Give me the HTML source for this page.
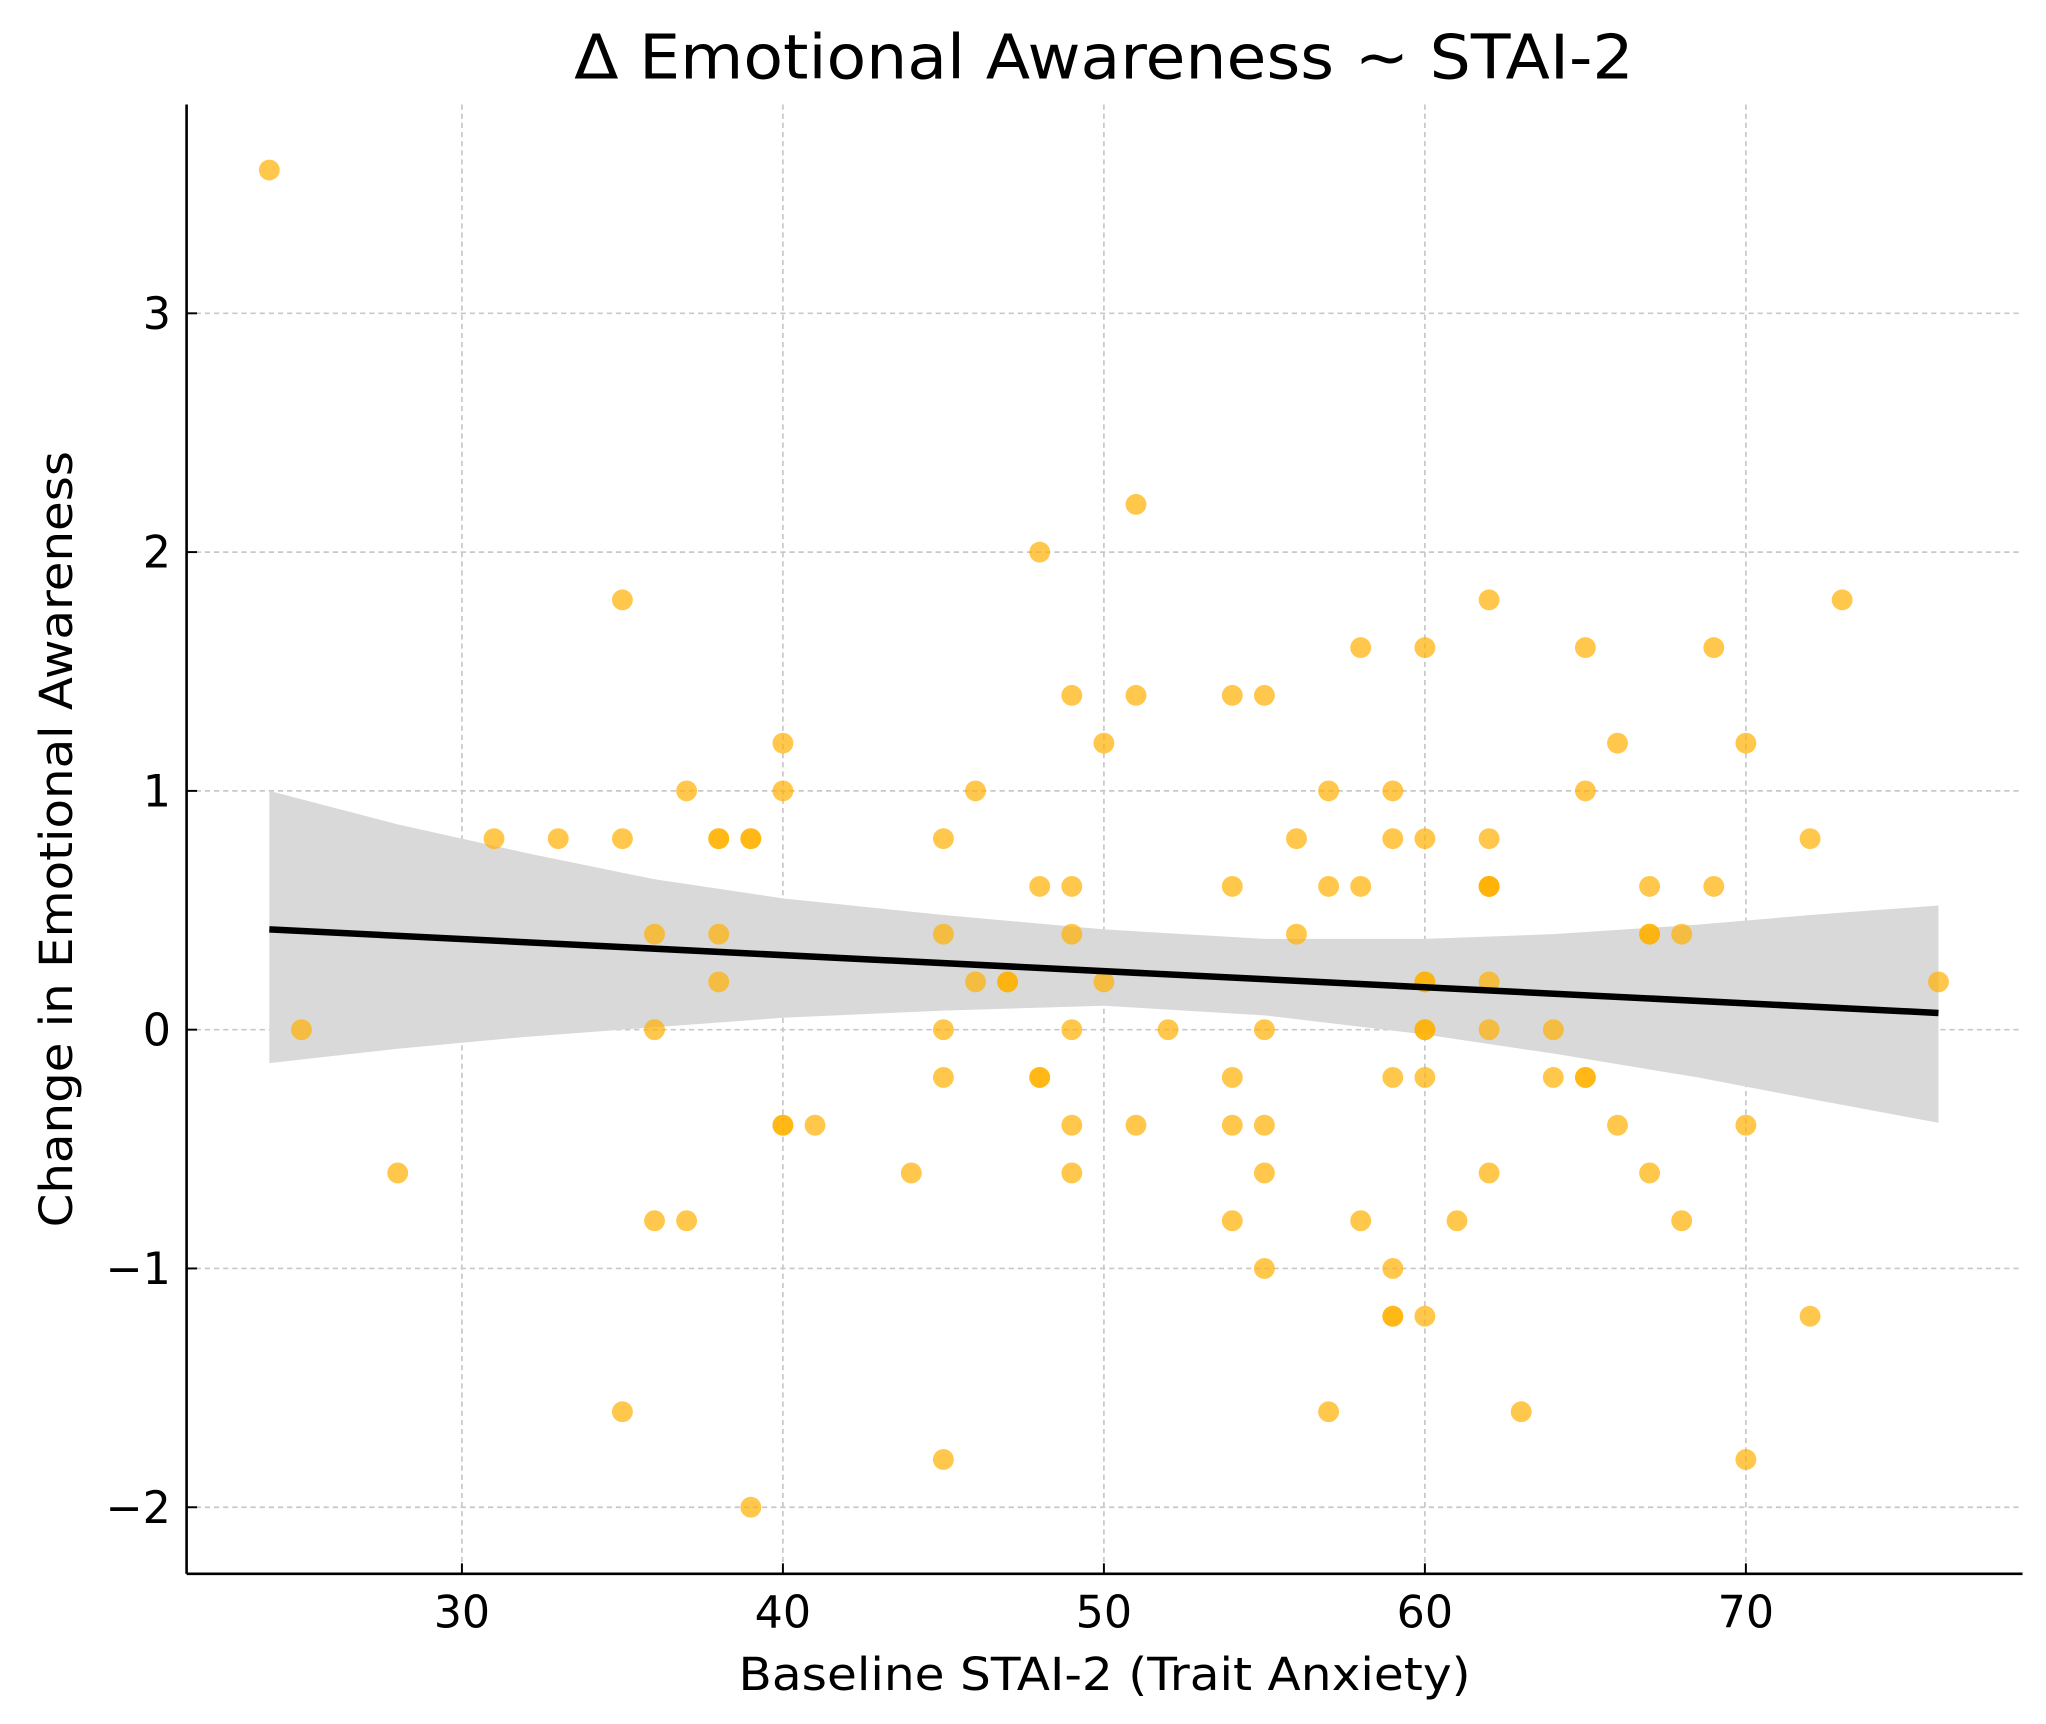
<!DOCTYPE html>
<html><head><meta charset="utf-8"><style>
html,body{margin:0;padding:0;background:#fff;}
svg{display:block;}
text{font-family:"DejaVu Sans","Liberation Sans",sans-serif;fill:#000;}
</style></head><body>
<svg id="chart" width="2046" height="1724" viewBox="0 0 1568 1321" xmlns="http://www.w3.org/2000/svg">
<g id="grid"></g>
<g id="band"></g>
<g id="pts"></g>
<g id="fit"></g>
<g id="axes"></g>
<text x="440" y="60" font-size="47" textLength="812" lengthAdjust="spacingAndGlyphs">Δ Emotional Awareness ~ STAI-2</text>
<text x="566" y="1295" font-size="35" textLength="561" lengthAdjust="spacingAndGlyphs">Baseline STAI-2 (Trait Anxiety)</text>
<text x="0" y="0" font-size="35" text-anchor="middle" textLength="595" lengthAdjust="spacingAndGlyphs" transform="translate(55,643) rotate(-90)">Change in Emotional Awareness</text>
</svg>
<script>
const xTicks = [30, 40, 50, 60, 70];
const yTicks = [-2, -1, 0, 1, 2, 3];
const yTickLabels = ["\u22122", "\u22121", "0", "1", "2", "3"];
const ptX = [24,25,28,31,33,35,35,35,36,36,36,37,37,38,38,38,38,39,39,39,40,40,40,40,41,44,45,45,45,45,45,46,46,47,47,48,48,48,48,49,49,49,49,49,49,50,50,51,51,51,52,54,54,54,54,54,55,55,55,55,55,56,56,57,57,57,58,58,58,59,59,59,59,59,59,60,60,60,60,60,60,60,60,61,62,62,62,62,62,62,62,62,63,64,64,65,65,65,65,66,66,67,67,67,67,68,68,69,69,70,70,70,72,72,73,76];
const ptY = [3.6,0,-0.6,0.8,0.8,1.8,0.8,-1.6,0.4,0,-0.8,1.0,-0.8,0.8,0.8,0.4,0.2,0.8,0.8,-2,1.2,1.0,-0.4,-0.4,-0.4,-0.6,0.8,0.4,0,-0.2,-1.8,1.0,0.2,0.2,0.2,2.0,0.6,-0.2,-0.2,1.4,0.6,0.4,0,-0.4,-0.6,1.2,0.2,2.2,1.4,-0.4,0,1.4,0.6,-0.2,-0.4,-0.8,1.4,0,-0.4,-0.6,-1.0,0.8,0.4,1.0,0.6,-1.6,1.6,0.6,-0.8,1.0,0.8,-0.2,-1.0,-1.2,-1.2,1.6,0.8,0.2,0.2,0,0,-0.2,-1.2,-0.8,1.8,0.8,0.6,0.6,0.6,0.2,0,-0.6,-1.6,0,-0.2,1.6,1.0,-0.2,-0.2,1.2,-0.4,0.6,0.4,0.4,-0.6,0.4,-0.8,1.6,0.6,1.2,-0.4,-1.8,0.8,-1.2,1.8,0.2];
const fitX = [24, 76];
const fitY = [0.42, 0.07];
const bandX = [24, 28, 32, 36, 40, 45, 50, 55, 60, 64, 68.5, 72, 76];
const bandUpper = [1.0, 0.86, 0.74, 0.63, 0.55, 0.48, 0.42, 0.38, 0.38, 0.40, 0.44, 0.48, 0.52];
const bandLower = [-0.14, -0.08, -0.03, 0.01, 0.05, 0.08, 0.10, 0.06, -0.02, -0.1, -0.2, -0.29, -0.39];

const NS = "http://www.w3.org/2000/svg";
const L = 143, R = 1550, T = 80, B = 1206;
const sx = v => 354 + (v - 30) * 24.6;
const sy = v => 789 - v * 183;
function mk(tag, attrs, parent) {
  const e = document.createElementNS(NS, tag);
  for (const k in attrs) e.setAttribute(k, attrs[k]);
  parent.appendChild(e);
  return e;
}
const grid = document.getElementById('grid');
const axes = document.getElementById('axes');
xTicks.forEach(v => {
  const g = mk('line', {x1: sx(v), x2: sx(v), y1: T, y2: B, stroke: '#c8c8c8', 'stroke-width': 1.3, 'stroke-dasharray': '4,3'}, grid);
  
  
  const t = mk('line', {x1: sx(v), x2: sx(v), y1: B, y2: B - 8, stroke: '#000', 'stroke-width': 1.5}, axes);
  
  
  const lb = mk('text', {x: sx(v), y: B + 41, 'font-size': 34, 'text-anchor': 'middle'}, axes);
  lb.textContent = v;
  
  
});
yTicks.forEach((v, i) => {
  const g = mk('line', {x1: L, x2: R, y1: sy(v), y2: sy(v), stroke: '#c8c8c8', 'stroke-width': 1.3, 'stroke-dasharray': '4,3'}, grid);
  
  
  const t = mk('line', {x1: L, x2: L + 8, y1: sy(v), y2: sy(v), stroke: '#000', 'stroke-width': 1.5}, axes);
  
  
  const lb = mk('text', {x: L - 12, y: sy(v) + 12, 'font-size': 34, 'text-anchor': 'end'}, axes);
  lb.textContent = yTickLabels[i];
  
  
});
const sp1 = mk('line', {x1: L, x2: L, y1: T, y2: B, stroke: '#000', 'stroke-width': 2}, axes);


const sp2 = mk('line', {x1: L, x2: R, y1: B, y2: B, stroke: '#000', 'stroke-width': 2}, axes);



let d = '';
bandX.forEach((v, i) => { d += (i ? 'L' : 'M') + sx(v) + ',' + sy(bandUpper[i]); });
for (let i = bandX.length - 1; i >= 0; i--) d += 'L' + sx(bandX[i]) + ',' + sy(bandLower[i]);
d += 'Z';
const bp = mk('path', {d: d, fill: '#d9d9d9'}, document.getElementById('band'));



const pts = document.getElementById('pts');
ptX.forEach((v, i) => {
  const c = mk('circle', {cx: sx(v), cy: sy(ptY[i]), r: 8, fill: '#ffb000', 'fill-opacity': 0.7}, pts);
  
  
});
const fl = mk('line', {x1: sx(fitX[0]), y1: sy(fitY[0]), x2: sx(fitX[1]), y2: sy(fitY[1]), stroke: '#000', 'stroke-width': 5}, document.getElementById('fit'));


</script>
</body></html>
